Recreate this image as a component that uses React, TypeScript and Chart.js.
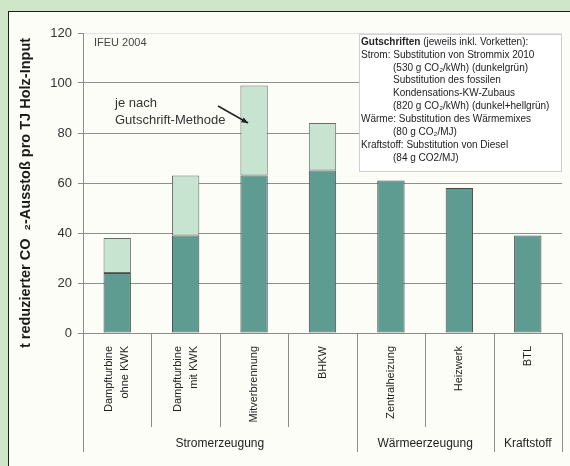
import React, { useEffect, useRef } from 'react';
import { Chart, registerables } from 'chart.js';

Chart.register(...registerables);

// ---------- data ----------
const categories: string[][] = [
  ['Dampfturbine', 'ohne KWK'],
  ['Dampfturbine', 'mit KWK'],
  ['Mitverbrennung'],
  ['BHKW'],
  ['Zentralheizung'],
  ['Heizwerk'],
  ['BTL'],
];
// dark green: substitution of Strommix (base)
const darkValues: number[] = [24, 39, 63, 65, 61, 58, 39];
// light green: additional credit (fossil condensation plants)
const lightValues: (number | null)[] = [14, 24, 36, 19, null, null, null];

const groupLabels = ['Stromerzeugung', 'Wärmeerzeugung', 'Kraftstoff'];
const groupStarts = [0, 4, 6];
const groupEnds = [3, 5, 6];

const yMin = 0;
const yMax = 120;
const yStep = 20;

const yTitle = 't reduzierter CO  \u2082-Ausstoß pro TJ Holz-Input';
const sourceNote = 'IFEU 2004';
const methodNote = ['je nach', 'Gutschrift-Methode'];

const legendLines: { indent: boolean; bold?: string; text: string }[] = [
  { indent: false, bold: 'Gutschriften', text: ' (jeweils inkl. Vorketten):' },
  { indent: false, text: 'Strom: Substitution von Strommix 2010' },
  { indent: true, text: '(530 g CO\u2082/kWh) (dunkelgrün)' },
  { indent: true, text: 'Substitution des fossilen' },
  { indent: true, text: 'Kondensations-KW-Zubaus' },
  { indent: true, text: '(820 g CO\u2082/kWh) (dunkel+hellgrün)' },
  { indent: false, text: 'Wärme: Substitution des Wärmemixes' },
  { indent: true, text: '(80 g CO\u2082/MJ)' },
  { indent: false, text: 'Kraftstoff: Substitution von Diesel' },
  { indent: true, text: '(84 g CO2/MJ)' },
];

const FONT = '"Liberation Sans", Arial, Helvetica, sans-serif';
const DARK = '#5e9b90';
const LIGHT = '#c6e4d0';

const overlayPlugin = {
  id: 'overlay',
  beforeDatasetsDraw(chart: any) {
    const { ctx, chartArea: a } = chart;
    // legend / note box (covers grid lines)
    const bx = 359;
    const by = a.top + 1;
    const bw = a.right - bx;
    const bh = 172 - by;
    ctx.save();
    ctx.fillStyle = '#ffffff';
    ctx.fillRect(bx, by, bw, bh);
    ctx.strokeStyle = '#d0d0d0';
    ctx.lineWidth = 1;
    ctx.strokeRect(bx + 0.5, by + 0.5, bw - 1, bh - 1);
    ctx.restore();
  },
  afterDraw(chart: any) {
    const { ctx, chartArea: a, scales } = chart;
    const x = scales.x;
    const n = categories.length;
    ctx.save();

    // category separators
    const bounds: number[] = [];
    for (let i = 0; i <= n; i++) {
      if (i === 0) bounds.push(a.left);
      else if (i === n) bounds.push(a.right);
      else bounds.push((x.getPixelForValue(i - 1) + x.getPixelForValue(i)) / 2);
    }
    const groupBounds = new Set<number>([0, ...groupEnds.map((e) => e + 1)]);
    ctx.strokeStyle = '#8c8c8c';
    ctx.lineWidth = 1;
    bounds.forEach((bx, i) => {
      const len = groupBounds.has(i) ? 119 : 94;
      const px = Math.round(bx) + 0.5;
      ctx.beginPath();
      ctx.moveTo(px, a.bottom);
      ctx.lineTo(px, a.bottom + len);
      ctx.stroke();
    });

    // category labels (rotated)
    ctx.fillStyle = '#222';
    ctx.font = `11px ${FONT}`;
    categories.forEach((lines, i) => {
      const px = x.getPixelForValue(i);
      lines.forEach((line, j) => {
        const cx = px + (j - (lines.length - 1) / 2) * 16;
        ctx.save();
        ctx.translate(cx, a.bottom + 13);
        ctx.rotate(-Math.PI / 2);
        ctx.textAlign = 'right';
        ctx.textBaseline = 'middle';
        ctx.fillText(line, 0, 0);
        ctx.restore();
      });
    });

    // group labels
    ctx.font = `12px ${FONT}`;
    ctx.textAlign = 'center';
    ctx.textBaseline = 'middle';
    groupLabels.forEach((g, k) => {
      const cx = (bounds[groupStarts[k]] + bounds[groupEnds[k] + 1]) / 2;
      ctx.fillText(g, cx, a.bottom + 111);
    });

    // y axis title
    ctx.save();
    ctx.font = `bold 14.5px ${FONT}`;
    ctx.fillStyle = '#1a1a1a';
    ctx.translate(26, 193);
    ctx.rotate(-Math.PI / 2);
    ctx.textAlign = 'center';
    ctx.textBaseline = 'middle';
    ctx.fillText(yTitle, 0, 0);
    ctx.restore();

    // source note
    ctx.font = `11px ${FONT}`;
    ctx.fillStyle = '#444';
    ctx.textAlign = 'left';
    ctx.textBaseline = 'middle';
    ctx.fillText(sourceNote, a.left + 11, a.top + 10);

    // method note + arrow
    ctx.font = `13px ${FONT}`;
    ctx.fillStyle = '#333';
    methodNote.forEach((t, i) => ctx.fillText(t, a.left + 32, a.top + 70 + i * 17));
    const x0 = 218, y0 = 106, x1 = 248, y1 = 123;
    ctx.strokeStyle = '#222';
    ctx.lineWidth = 1.5;
    ctx.beginPath();
    ctx.moveTo(x0, y0);
    ctx.lineTo(x1, y1);
    ctx.stroke();
    const ang = Math.atan2(y1 - y0, x1 - x0);
    ctx.fillStyle = '#222';
    ctx.beginPath();
    ctx.moveTo(x1, y1);
    ctx.lineTo(x1 - 7 * Math.cos(ang - 0.4), y1 - 7 * Math.sin(ang - 0.4));
    ctx.lineTo(x1 - 7 * Math.cos(ang + 0.4), y1 - 7 * Math.sin(ang + 0.4));
    ctx.closePath();
    ctx.fill();

    // legend text
    ctx.fillStyle = '#222';
    ctx.textBaseline = 'middle';
    legendLines.forEach((l, i) => {
      const ly = 42 + i * 12.9;
      let lx = l.indent ? 393 : 361;
      if (l.bold) {
        ctx.font = `bold 10px ${FONT}`;
        ctx.fillText(l.bold, lx, ly);
        lx += ctx.measureText(l.bold).width;
      }
      ctx.font = `10px ${FONT}`;
      ctx.fillText(l.text, lx, ly);
    });

    ctx.restore();
  },
};

export default function App() {
  const canvasRef = useRef<HTMLCanvasElement | null>(null);

  useEffect(() => {
    if (!canvasRef.current) return;
    const chart = new Chart(canvasRef.current, {
      type: 'bar',
      data: {
        labels: categories.map((c) => c.join(' ')),
        datasets: [
          {
            label: 'dunkelgrün',
            data: darkValues,
            backgroundColor: DARK,
            borderColor: '#4a4a4a',
            borderWidth: 1,
            borderSkipped: false,
            barPercentage: 0.4,
            categoryPercentage: 1,
          },
          {
            label: 'hellgrün',
            data: lightValues as any,
            backgroundColor: LIGHT,
            borderColor: '#6a6a6a',
            borderWidth: 1,
            borderSkipped: false,
            barPercentage: 0.4,
            categoryPercentage: 1,
          },
        ],
      },
      options: {
        responsive: false,
        animation: false,
        devicePixelRatio: 1,
        layout: { padding: { top: 33, right: 8, left: 0, bottom: 0 } },
        plugins: {
          legend: { display: false },
          tooltip: { enabled: false },
          title: { display: false },
        },
        scales: {
          x: {
            stacked: true,
            offset: true,
            grid: { display: false, drawTicks: false },
            border: { display: true, color: '#8c8c8c', width: 1 },
            ticks: { display: false },
            afterFit: (s: any) => {
              s.height = 133;
            },
          },
          y: {
            stacked: true,
            min: yMin,
            max: yMax,
            grid: {
              color: (c: any) => (c.tick && c.tick.value === yMax ? '#e2e2e2' : '#8f8f8f'),
              tickColor: '#8c8c8c',
              tickLength: 5,
              lineWidth: 1,
            },
            border: { display: true, color: '#8c8c8c', width: 1 },
            ticks: {
              stepSize: yStep,
              padding: 6,
              color: '#333',
              font: { family: FONT, size: 13 },
            },
            afterFit: (s: any) => {
              s.width = 83;
            },
          },
        },
      },
      plugins: [overlayPlugin],
    });
    return () => chart.destroy();
  }, []);

  return (
    <div
      style={{
        position: 'fixed',
        left: 0,
        top: 0,
        width: 570,
        height: 466,
        overflow: 'hidden',
        background: '#cfe6c9',
      }}
    >
      <div
        style={{
          position: 'absolute',
          left: 8,
          top: 11,
          width: 600,
          height: 500,
          background: '#fdfdf8',
          borderLeft: '1.5px solid #1e1e1e',
          borderTop: '1.5px solid #1e1e1e',
        }}
      />
      <canvas
        ref={canvasRef}
        width={570}
        height={466}
        style={{ position: 'absolute', left: 0, top: 0, width: 570, height: 466 }}
      />
    </div>
  );
}
